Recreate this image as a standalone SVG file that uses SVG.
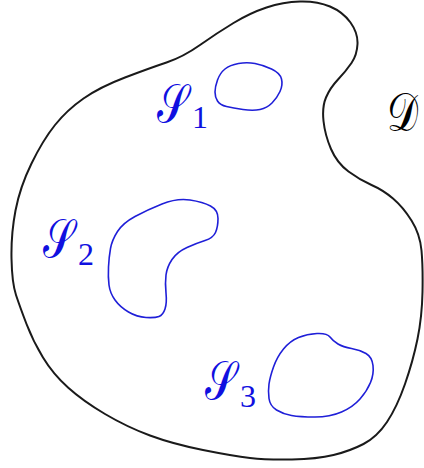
<svg xmlns="http://www.w3.org/2000/svg" width="424" height="468" viewBox="0 0 424 468">
<style>
.outer{fill:none;stroke:#1a1a1a;stroke-width:2;stroke-linejoin:round}
.blob{fill:none;stroke:#1f1fd8;stroke-width:1.6;stroke-linejoin:round}
.lbl{font-family:"DejaVu Serif","DejaVu Sans","Liberation Serif",serif;fill:#1010e0;font-size:54px}
.sub{font-family:"Liberation Serif",serif;font-size:32px;fill:#1010e0}
</style>
<rect width="424" height="468" fill="#fff"/>
<g id="domain">
<path class="outer" d="M 15.5,210.5 Q 20,187 31.5,163.5 Q 43,140 55,125 Q 67,110 83.5,98.5 Q 100,87 125,77.5 Q 150,68 166.5,62.5 Q 183,57 200,45 Q 217,33 233.5,23 Q 250,13 266.5,7.5 Q 283,2 300,1.5 Q 317,1 330,6.5 Q 343,12 350.5,22.5 Q 358,33 357.5,44 Q 357,55 351.5,63 Q 346,71 338,79.5 Q 330,88 326,97.5 Q 322,107 323.5,121 Q 325,135 331,149 Q 337,163 348.5,171.5 Q 360,180 371.5,185 Q 383,190 393,198.5 Q 403,207 411.5,220.5 Q 420,234 421.5,250.5 Q 423,267 422.5,292 Q 422,317 417.5,339 Q 413,361 405,384 Q 397,407 387,422 Q 377,437 363.5,444 Q 350,451 333.5,455 Q 317,459 292,459.5 Q 267,460 250,458 Q 233,456 203,450 Q 173,444 150,435.5 Q 127,427 105,414 Q 83,401 68,387.5 Q 53,374 43,357.5 Q 33,341 26.5,324 Q 20,307 16,295 Q 12,283 11.5,258.5 Q 11,234 15.5,210.5 Z"/>
<text class="lbl" transform="translate(387,131) scale(0.72,1)" style="fill:#000">𝒟</text>
</g>
<g id="S1">
<path class="blob" d="M 217.5,80 Q 220,73 225,69 Q 230,65 238.5,63.5 Q 247,62 255,63.5 Q 263,65 271.5,69 Q 280,73 281.5,79 Q 283,85 280,91.5 Q 277,98 272,103 Q 267,108 260,109.5 Q 253,111 243,109.5 Q 233,108 226.5,106.5 Q 220,105 217.5,101 Q 215,97 215,92 Q 215,87 217.5,80 Z"/>
<text class="lbl" transform="translate(157,122) scale(0.74,1)">𝒮</text>
<text class="sub" x="192" y="128">1</text>
</g>
<g id="S2">
<path class="blob" d="M 110.5,248.5 Q 112,240 117.5,231.5 Q 123,223 135,216.5 Q 147,210 162,204 Q 177,198 190,200 Q 203,202 210.5,206 Q 218,210 218,218.5 Q 218,227 215.5,232.5 Q 213,238 205,240.5 Q 197,243 187,247.5 Q 177,252 172,259.5 Q 167,267 166,275 Q 165,283 166,293 Q 167,303 165,309 Q 163,315 159,316.5 Q 155,318 146,317.5 Q 137,317 128.5,312 Q 120,307 115,300 Q 110,293 109,285 Q 108,277 108.5,267 Q 109,257 110.5,248.5 Z"/>
<text class="lbl" transform="translate(43,257) scale(0.74,1)">𝒮</text>
<text class="sub" x="78" y="265">2</text>
</g>
<g id="S3">
<path class="blob" d="M 269,384 Q 270,377 273.5,367 Q 277,357 283.5,349 Q 290,341 298.5,337.5 Q 307,334 317,333.5 Q 327,333 330,337 Q 333,341 338,344 Q 343,347 351.5,348.5 Q 360,350 366,353.5 Q 372,357 373,365.5 Q 374,374 370.5,382.5 Q 367,391 360,399 Q 353,407 341.5,412 Q 330,417 315,417 Q 300,417 291.5,415.5 Q 283,414 276.5,410 Q 270,406 269,398.5 Q 268,391 269,384 Z"/>
<text class="lbl" transform="translate(205,399) scale(0.74,1)">𝒮</text>
<text class="sub" x="240" y="407">3</text>
</g>
</svg>
